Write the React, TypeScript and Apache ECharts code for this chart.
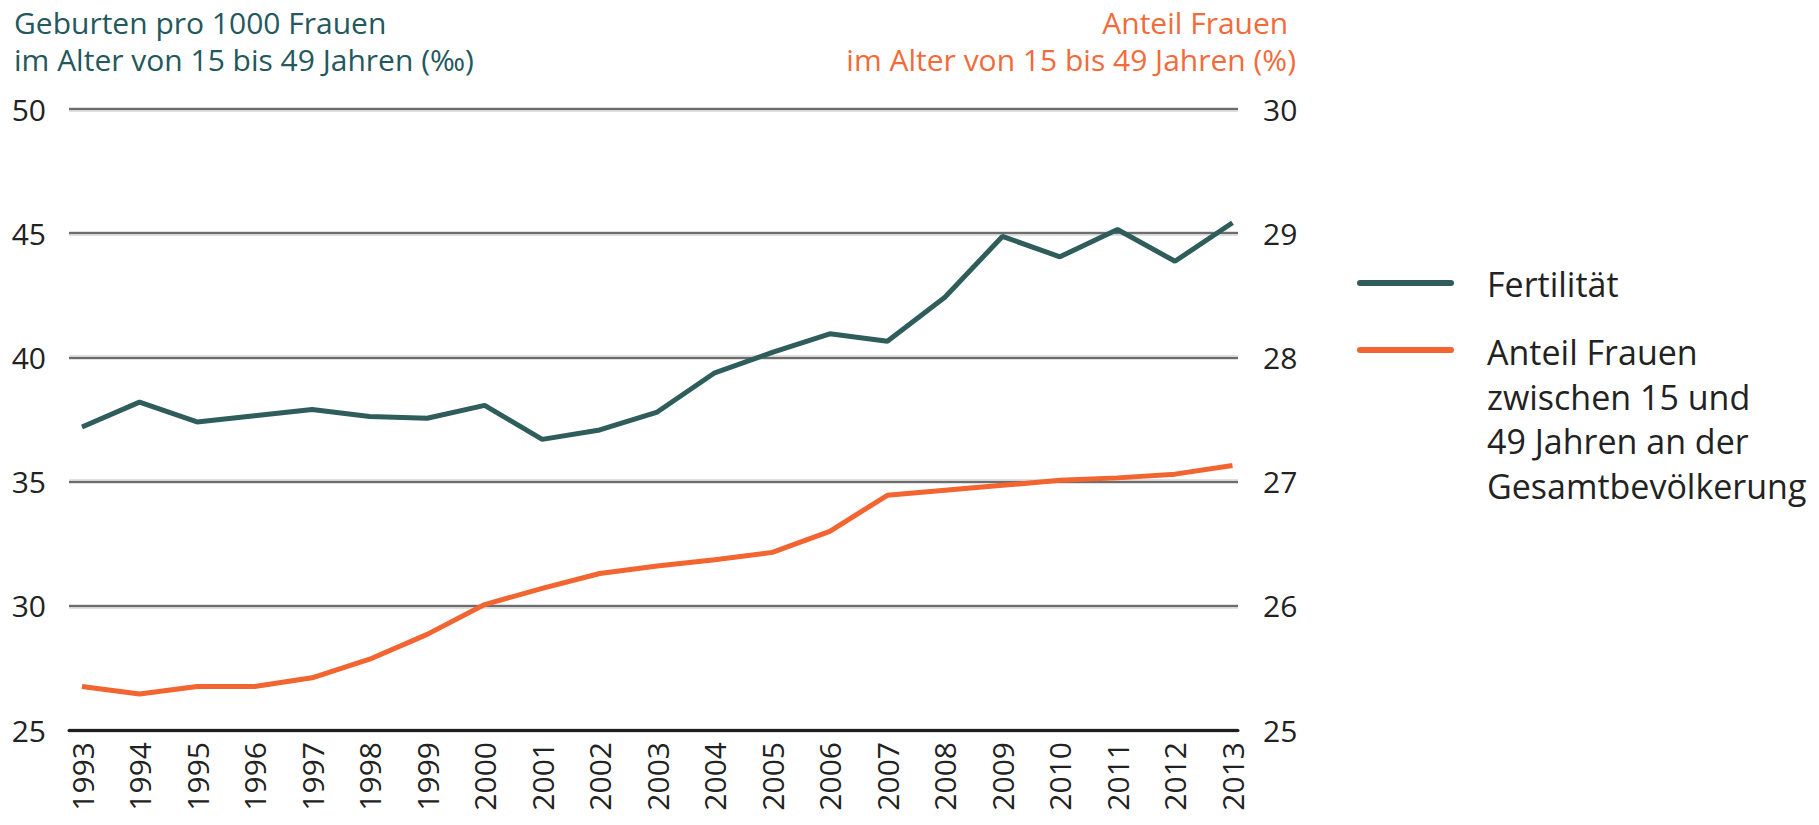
import React, { useEffect, useRef } from "react";
import * as echarts from "echarts";

const years = ["1993","1994","1995","1996","1997","1998","1999","2000","2001","2002","2003","2004","2005","2006","2007","2008","2009","2010","2011","2012","2013"];
const fertility = [37.2, 38.2, 37.4, 37.65, 37.9, 37.62, 37.55, 38.07, 36.7, 37.08, 37.8, 39.38, 40.2, 40.95, 40.65, 42.42, 44.87, 44.05, 45.15, 43.87, 45.42];
const shareWomen = [25.35, 25.29, 25.35, 25.35, 25.42, 25.57, 25.77, 26.01, 26.14, 26.26, 26.32, 26.37, 26.43, 26.6, 26.89, 26.93, 26.97, 27.01, 27.03, 27.06, 27.13];

const leftTitle = "Geburten pro 1000 Frauen\nim Alter von 15 bis 49 Jahren (‰)";
const rightTitle = "Anteil Frauen \nim Alter von 15 bis 49 Jahren (%)";
const seriesNames = ["Fertilität", "Anteil Frauen\nzwischen 15 und\n49 Jahren an der\nGesamtbevölkerung"];

const TEAL = "#2E5D5C";
const ORANGE = "#F26430";
const FONT = "'Open Sans', sans-serif";
const TXT = "#222222";

export default function App() {
  const ref = useRef<HTMLDivElement>(null);
  useEffect(() => {
    if (!ref.current) return;
    const chart = echarts.init(ref.current, undefined, { renderer: "svg" });
    const top = 109;
    const height = 621;
    chart.setOption({
      animation: false,
      backgroundColor: "#ffffff",
      textStyle: { fontFamily: FONT },
      grid: [
        { left: 69, width: 1169, top, height },
        { left: 82, width: 1150.5, top, height },
      ],
      xAxis: [
        {
          gridIndex: 0,
          type: "value",
          min: 0,
          max: 1,
          z: 5,
          axisLine: { show: true, onZero: false, lineStyle: { color: "#1e1e1e", width: 3 } },
          axisTick: { show: false },
          axisLabel: { show: false },
          splitLine: { show: false },
        },
        {
          gridIndex: 1,
          type: "category",
          data: years,
          boundaryGap: false,
          axisLine: { show: false },
          axisTick: { show: false },
          axisLabel: { rotate: 90, interval: 0, fontSize: 30, color: TXT, margin: 12, fontFamily: FONT },
          splitLine: { show: false },
        },
      ],
      yAxis: [
        {
          gridIndex: 0,
          type: "value",
          min: 25,
          max: 50,
          interval: 5,
          z: 3,
          axisLine: { show: false },
          axisTick: { show: false },
          axisLabel: { fontSize: 30, color: TXT, margin: 23, fontFamily: FONT, padding: [0, 0, 8, 0] },
          splitLine: { show: true, lineStyle: { color: "#4a4a4a", width: 1.5 } },
        },
        {
          gridIndex: 0,
          type: "value",
          position: "right",
          min: 25,
          max: 30,
          interval: 1,
          z: 1,
          axisLine: { show: false },
          axisTick: { show: false },
          axisLabel: { fontSize: 30, color: TXT, margin: 25, fontFamily: FONT, padding: [0, 0, 8, 0] },
          splitLine: { show: true, lineStyle: { color: "#d6d6d6", width: 4.5 } },
        },
        { gridIndex: 1, type: "value", min: 25, max: 50, show: false },
        { gridIndex: 1, type: "value", min: 25, max: 30, show: false, position: "right" },
      ],
      series: [
        {
          name: seriesNames[0],
          type: "line",
          xAxisIndex: 1,
          yAxisIndex: 2,
          data: fertility,
          symbol: "none",
          z: 10,
          lineStyle: { color: TEAL, width: 5 },
          itemStyle: { color: TEAL },
        },
        {
          name: seriesNames[1],
          type: "line",
          xAxisIndex: 1,
          yAxisIndex: 3,
          data: shareWomen,
          symbol: "none",
          z: 10,
          lineStyle: { color: ORANGE, width: 5 },
          itemStyle: { color: ORANGE },
        },
      ],
      graphic: [
        {
          type: "text",
          x: 14,
          y: 4,
          style: { text: leftTitle, fontSize: 30, lineHeight: 37, fontFamily: FONT, fill: "#24585C", verticalAlign: "top", align: "left" },
        },
        {
          type: "text",
          x: 1296,
          y: 4,
          style: { text: rightTitle, fontSize: 30, lineHeight: 37, fontFamily: FONT, fill: "#F26B3A", verticalAlign: "top", align: "right" },
        },
        {
          type: "line",
          shape: { x1: 1360, y1: 283, x2: 1451, y2: 283 },
          style: { stroke: TEAL, lineWidth: 6, lineCap: "round" },
        },
        {
          type: "text",
          x: 1487,
          y: 284,
          style: { text: seriesNames[0], fontSize: 34, fontFamily: FONT, fill: TXT, verticalAlign: "middle", align: "left" },
        },
        {
          type: "line",
          shape: { x1: 1360, y1: 350, x2: 1451, y2: 350 },
          style: { stroke: ORANGE, lineWidth: 6, lineCap: "round" },
        },
        {
          type: "text",
          x: 1487,
          y: 330,
          style: { text: seriesNames[1], fontSize: 34, lineHeight: 44.5, fontFamily: FONT, fill: TXT, verticalAlign: "top", align: "left" },
        },
      ],
    });
    return () => chart.dispose();
  }, []);
  return (
    <div
      ref={ref}
      style={{ position: "absolute", left: 0, top: 0, width: 1819, height: 825 }}
    />
  );
}
